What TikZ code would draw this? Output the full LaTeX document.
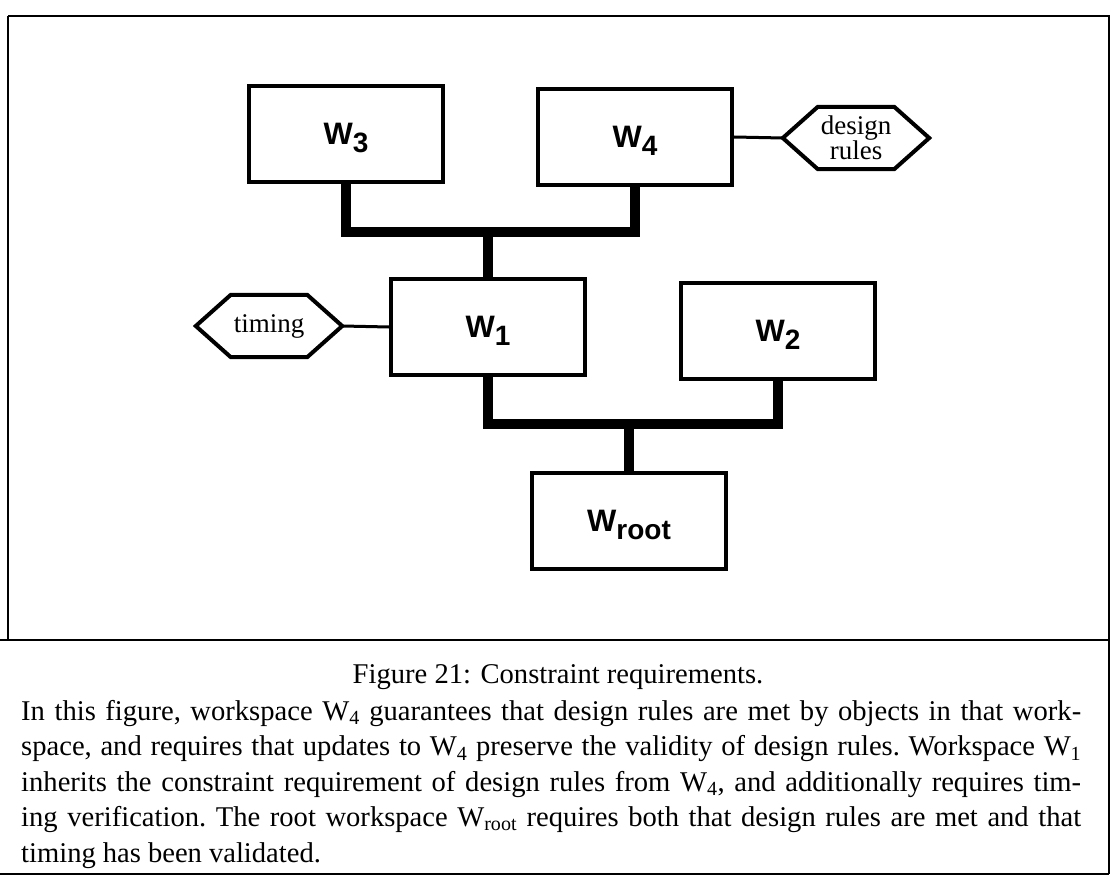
\documentclass[tikz,border=0pt]{standalone}
\usepackage{fontspec}
\setmainfont{Liberation Serif}
\newfontfamily\helvfont{Liberation Sans}
\usetikzlibrary{calc}
\newcommand{\wlab}[1]{{\helvfont\bfseries\fontsize{31}{31}\selectfont W\raisebox{-8pt}[0pt][0pt]{\fontsize{28}{28}\selectfont #1}}}
\newcommand{\hexoutline}[1]{\draw[hexline] ($(#1.west)+(-35,0)$) -- (#1.north west) -- (#1.north east) -- ($(#1.east)+(35,0)$) -- (#1.south east) -- (#1.south west) -- cycle;}
\newcommand{\capline}[1]{\hbox to\linewidth{#1}\par}
\newskip\capspace
\begin{document}
\begin{tikzpicture}[x=1pt,y=-1pt,
  wbox/.style={draw, line width=4pt, fill=white, minimum width=194pt, minimum height=96pt, inner sep=0pt},
  hexcore/.style={minimum width=76pt, minimum height=62pt, inner sep=0pt, font=\fontsize{27}{25}\selectfont, align=center},
  hexline/.style={line width=4pt, line join=miter},
  tree/.style={line width=10pt, line join=miter},
  link/.style={line width=3pt},
  frame/.style={line width=2.2pt},
  captext/.style={font=\fontsize{28.6}{35.5}\selectfont}]
\useasboundingbox (0,0) rectangle (1115,882);
% frame
\draw[frame] (8,16) -- (1109,16) -- (1109,874);
\draw[frame] (8,16) -- (8,640);
\draw[frame] (0,640) -- (1109,640);
\draw[frame] (0,874) -- (1109,874);
% junctions
\coordinate (j1) at (488,232);
\coordinate (j2) at (629,424);
% trees (drawn first, boxes cover the ends)
\draw[tree] (346,183) |- (j1) -| (635,185);
\draw[tree] (j1) -- (488,279);
\draw[tree] (488,375) |- (j2) -| (778,378);
\draw[tree] (j2) -- (629,474);
% boxes
\node[wbox] (W3) at (346,134) {\wlab{3}};
\node[wbox] (W4) at (635,137) {\wlab{4}};
\node[wbox] (W1) at (488,327) {\wlab{1}};
\node[wbox] (W2) at (778,331) {\wlab{2}};
\node[wbox] (Wr) at (629,521) {\wlab{root}};
% hexagons
\node[hexcore] (tm) at (269,326) {timing};
\node[hexcore] (dr) at (856,138) {design\\rules};
\hexoutline{tm}
\hexoutline{dr}
\coordinate (tmtip) at ($(tm.east)+(35,0)$);
\coordinate (drtip) at ($(dr.west)+(-35,0)$);
\draw[link] (tmtip) -- (W1.west);
\draw[link] (W4.east) -- (drtip);
% caption
\node[captext, anchor=base, inner sep=0pt] (fig) at (558,683) {Figure 21: Constraint requirements.};
\node[captext, anchor=north west, inner sep=0pt, text width=1060pt] (cap) at (21,700) {%
\frenchspacing\capspace=7pt plus 10pt minus 3pt\relax\spaceskip=\capspace
\capline{In this figure, workspace W\textsubscript{4} guarantees that design rules are met by objects in that work-}
\capline{space, and requires that updates to W\textsubscript{4} preserve the validity of design rules. Workspace W\textsubscript{1}}
\capline{inherits the constraint requirement of design rules from W\textsubscript{4}, and additionally requires tim-}
\capline{ing verification. The root workspace W\textsubscript{root} requires both that design rules are met and that}
\hbox{timing has been validated.}\par};
\end{tikzpicture}
\end{document}
